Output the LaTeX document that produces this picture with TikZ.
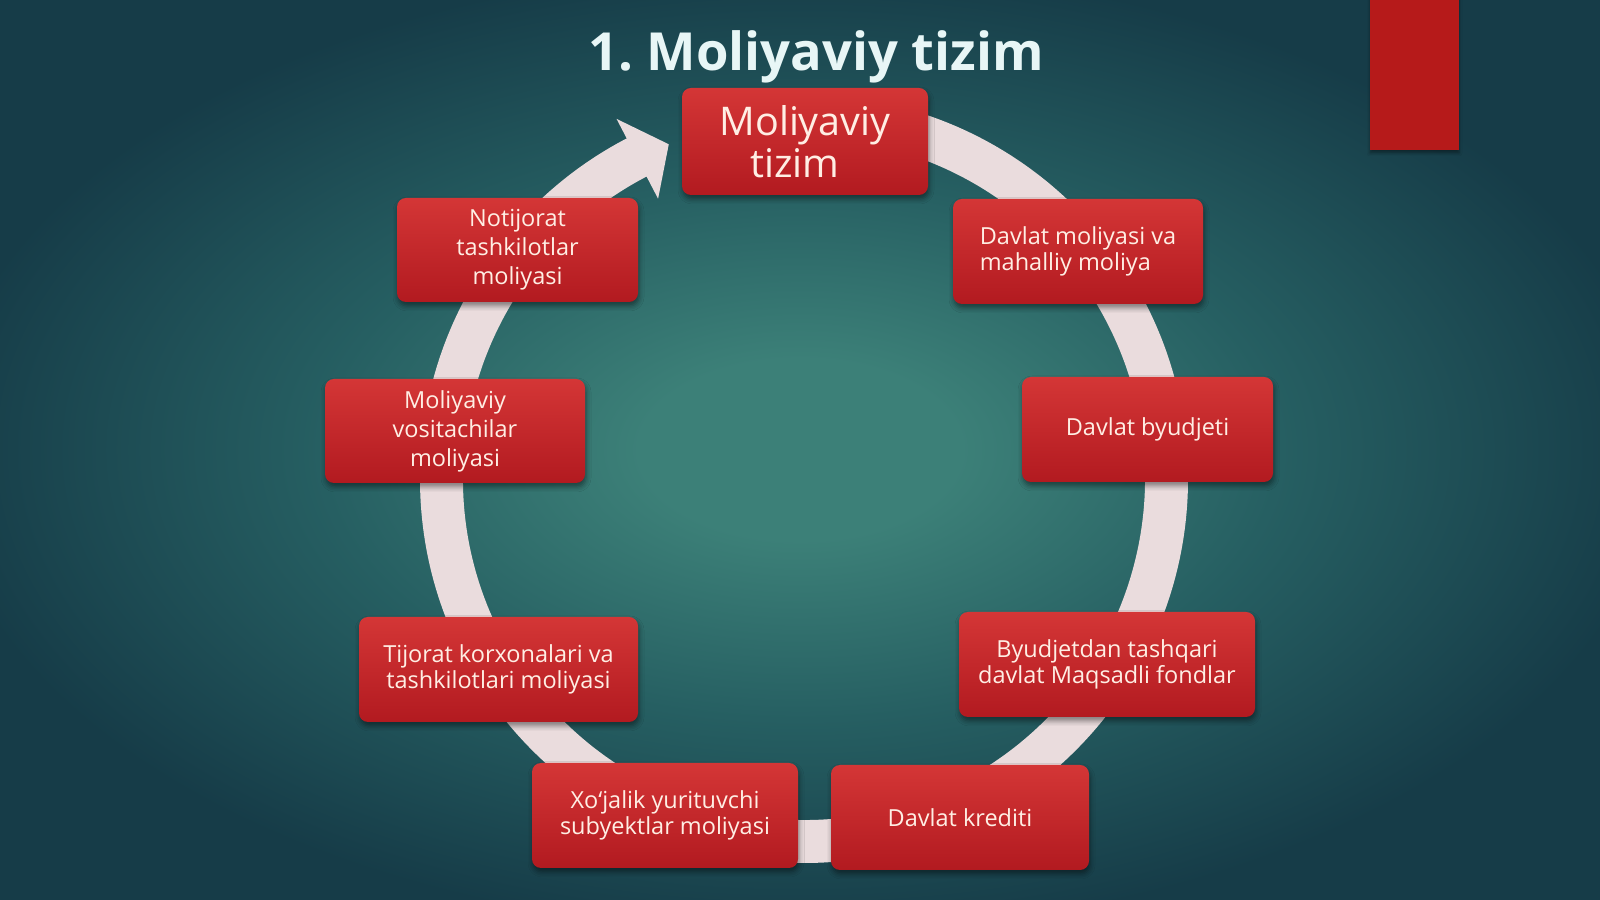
\documentclass[tikz,border=0pt]{standalone}
\usepackage{fontspec}
\setmainfont{Open Sans}
\usetikzlibrary{shadows.blur}
\definecolor{bgc}{RGB}{60,128,120}
\definecolor{bgm}{RGB}{38,95,98}
\definecolor{bge}{RGB}{22,60,72}
\definecolor{ringc}{RGB}{234,220,221}
\definecolor{boxtop}{RGB}{212,54,54}
\definecolor{boxbot}{RGB}{178,26,32}
\definecolor{boxtext}{RGB}{255,238,228}
\definecolor{tabred}{RGB}{182,26,26}
\definecolor{titlec}{RGB}{232,246,246}
\pgfdeclareradialshading{bgshade}{\pgfpoint{0bp}{0bp}}{color(0bp)=(bgc); color(5bp)=(bgc); color(15bp)=(bgm); color(27bp)=(bge); color(50bp)=(bge)}
\tikzset{
  redbox/.style={rounded corners=9pt, top color=boxtop, bottom color=boxbot, draw=none,
    text=boxtext, font=\fontsize{23.5}{25.5}\selectfont, align=center, inner sep=0pt,
    blur shadow={shadow xshift=1pt, shadow yshift=-4pt, shadow blur radius=5pt, shadow opacity=45}},
  threeline/.style={font=\fontsize{23.5}{29}\selectfont},
  titlestyle/.style={font=\fontsize{52.5}{56}\selectfont\bfseries, text=titlec, inner sep=0pt}
}
\begin{document}
\begin{tikzpicture}[x=1pt,y=1pt]
\useasboundingbox (0,0) rectangle (1600,899);
\fill[shading=bgshade] (0,0) rectangle (1600,899);
% red tab
\fill[tabred, blur shadow={shadow xshift=0pt, shadow yshift=-3pt, shadow blur radius=3pt, shadow opacity=40}] (1370,749) rectangle (1459,905);
% circular arrow
\begin{scope}[shift={(804,420)}]
\fill[ringc] (90:384pt) arc[start angle=90,end angle=-242.5,radius=384pt]
  -- (117.5:406pt) -- (112:361pt) -- (117.5:316pt) -- (117.5:341pt)
  arc[start angle=-242.5,end angle=90,radius=341pt] -- cycle;
\end{scope}
% title
\node[titlestyle, anchor=base] (title) at (816,828) {1.\ Moliyaviy tizim};
% boxes
\node[redbox, minimum width=246pt, minimum height=107pt, font=\fontsize{39.5}{42.5}\selectfont] (top) at (805,757.5) {Moliyaviy\\tizim\hspace*{20pt}};
\node[redbox, minimum width=250pt, minimum height=105pt, align=left] (dm) at (1078,647.5) {Davlat moliyasi va\\mahalliy moliya};
\node[redbox, minimum width=251pt, minimum height=105pt] (db) at (1147.5,469.5) {Davlat byudjeti};
\node[redbox, minimum width=296pt, minimum height=105pt] (bt) at (1107,234.5) {Byudjetdan tashqari\\davlat Maqsadli fondlar};
\node[redbox, minimum width=258pt, minimum height=105pt] (dk) at (960,81.5) {Davlat krediti};
\node[redbox, minimum width=266pt, minimum height=105pt] (xo) at (665,83.5) {Xo‘jalik yurituvchi\\subyektlar moliyasi};
\node[redbox, minimum width=279pt, minimum height=105pt] (tj) at (498.5,229.5) {Tijorat korxonalari va\\tashkilotlari moliyasi};
\node[redbox, threeline, minimum width=260pt, minimum height=104pt] (mv) at (455,468) {Moliyaviy\\vositachilar\\moliyasi};
\node[redbox, threeline, minimum width=241pt, minimum height=104pt] (nt) at (517.5,649) {Notijorat\\tashkilotlar\\moliyasi};
\end{tikzpicture}
\end{document}
